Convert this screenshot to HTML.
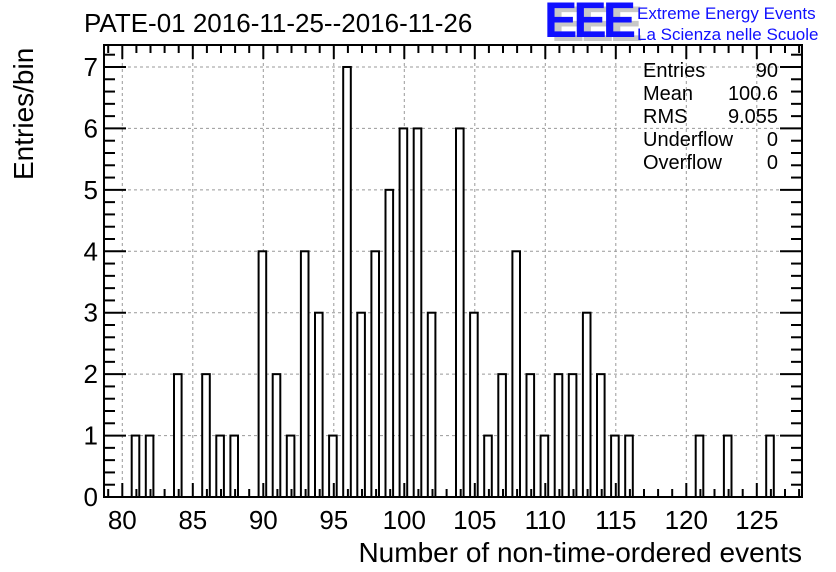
<!DOCTYPE html>
<html><head><meta charset="utf-8"><style>
body{margin:0;background:#fff;}
svg{display:block;font-family:"Liberation Sans",Arial,sans-serif;}
</style></head><body>
<svg id="c" width="836" height="572" viewBox="0 0 836 572">
<rect width="836" height="572" fill="#fff"/>
<g id="grid"></g>
<g id="bars"></g>
<g id="axes"></g>
<text x="84" y="32" font-size="26">PATE-01 2016-11-25--2016-11-26</text>
<g>
<text x="551" y="41" font-size="50" font-weight="bold" fill="#c8c8c8" letter-spacing="-4">EEE</text>
<text x="544" y="37" font-size="50" font-weight="bold" fill="#1010ff" letter-spacing="-4">EEE</text>
<text x="637" y="19" font-size="17" fill="#1010ff">Extreme Energy Events</text>
<text x="637" y="40" font-size="17" fill="#1010ff">La Scienza nelle Scuole</text>
</g>
<g font-size="20">
<text x="643" y="77">Entries</text><text x="778" y="77" text-anchor="end">90</text>
<text x="643" y="100">Mean</text><text x="778" y="100" text-anchor="end">100.6</text>
<text x="643" y="123">RMS</text><text x="778" y="123" text-anchor="end">9.055</text>
<text x="643" y="146">Underflow</text><text x="778" y="146" text-anchor="end">0</text>
<text x="643" y="169">Overflow</text><text x="778" y="169" text-anchor="end">0</text>
</g>
<text x="802" y="562" font-size="28" text-anchor="end">Number of non-time-ordered events</text>
<text transform="translate(33,180) rotate(-90)" font-size="28">Entries/bin</text>
</svg>
<script>
const binValues=[81,82,84,86,87,88,90,91,92,93,94,95,96,97,98,99,100,101,102,104,105,106,107,108,109,110,111,112,113,114,115,116,121,123,126];
const binCounts=[1,1,2,2,1,1,4,2,1,4,3,1,7,3,4,5,6,6,3,6,3,1,2,4,2,1,2,2,3,2,1,1,1,1,1];
const xTicks=[80,85,90,95,100,105,110,115,120,125];
const yTicks=[0,1,2,3,4,5,6,7];
const L=104,R=802,T=45,B=497;
const X=v=>122.3+(v-80)*14.1;
const Y=v=>497-v*61.43;
const NS="http://www.w3.org/2000/svg";
function mk(tag,attrs,parent){const e=document.createElementNS(NS,tag);for(const k in attrs)e.setAttribute(k,attrs[k]);document.getElementById(parent).appendChild(e);return e;}
xTicks.forEach(t=>{
 const g=mk('line',{x1:X(t),x2:X(t),y1:T,y2:B,stroke:'#999','stroke-dasharray':'3,3','stroke-width':1},'grid');
 
 
});
yTicks.forEach(t=>{
 const g=mk('line',{x1:L,x2:R,y1:Y(t),y2:Y(t),stroke:'#999','stroke-dasharray':'3,3','stroke-width':1},'grid');
 
 
});
binValues.forEach((v,i)=>{
 const x0=X(v)-4.7,x1=X(v)+2.9;
 const r=mk('rect',{x:x0,y:Y(binCounts[i]),width:x1-x0,height:B-Y(binCounts[i]),fill:'#fff',stroke:'#000','stroke-width':2},'bars');
 
 
});
const fr=mk('rect',{x:L,y:T,width:R-L,height:B-T,fill:'none',stroke:'#000','stroke-width':2},'axes');


for(let v=79;v<=128;v++){
 const x=X(v);if(x<L||x>R)continue;
 const len=v%5===0?14:8;
 mk('line',{x1:x,x2:x,y1:B,y2:B-len,stroke:'#000','stroke-width':2},'axes');
 mk('line',{x1:x,x2:x,y1:T,y2:T+len,stroke:'#000','stroke-width':2},'axes');
}
for(let k=0;k<=36;k++){
 const v=k/5,y=Y(v);if(y<T)continue;
 const len=k%5===0?22:11;
 mk('line',{x1:L,x2:L+len,y1:y,y2:y,stroke:'#000','stroke-width':2},'axes');
 mk('line',{x1:R,x2:R-len,y1:y,y2:y,stroke:'#000','stroke-width':2},'axes');
}
xTicks.forEach(t=>{
 const e=mk('text',{x:X(t),y:529,'font-size':26,'text-anchor':'middle'},'axes');
 e.textContent=t;
 
 
});
yTicks.forEach(t=>{
 const e=mk('text',{x:98,y:Y(t)+9,'font-size':26,'text-anchor':'end'},'axes');
 e.textContent=t;
 
 
});
</script>
</body></html>
